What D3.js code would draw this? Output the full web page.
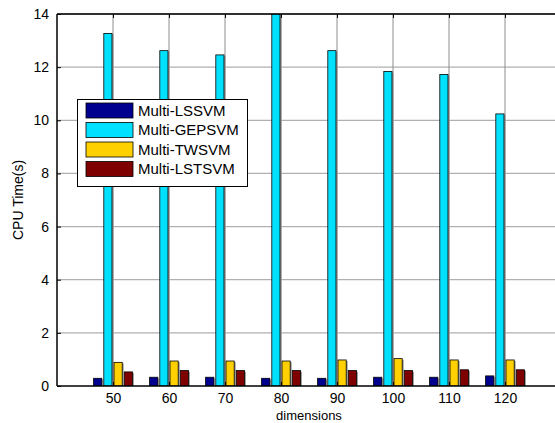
<!DOCTYPE html>
<html><head><meta charset="utf-8">
<script src="https://cdn.jsdelivr.net/npm/d3@7"></script>
<style>body{margin:0;background:#fff}svg{display:block}text{font-family:"Liberation Sans",Arial,sans-serif}</style>
</head><body><svg id="c" width="555" height="423"></svg>
<script>
const dims = [50, 60, 70, 80, 90, 100, 110, 120];
const seriesNames = ["Multi-LSSVM", "Multi-GEPSVM", "Multi-TWSVM", "Multi-LSTSVM"];
const lssvm   = [0.29, 0.33, 0.33, 0.29, 0.29, 0.33, 0.33, 0.38];
const gepsvm  = [13.27, 12.62, 12.46, 14.0, 12.62, 11.84, 11.72, 10.24];
const twsvm   = [0.89, 0.94, 0.94, 0.94, 0.98, 1.03, 0.98, 0.98];
const lstsvm  = [0.53, 0.58, 0.58, 0.58, 0.58, 0.58, 0.61, 0.61];
const yTicks  = [0, 2, 4, 6, 8, 10, 12, 14];
const colors  = ["#00008F", "#00E1FF", "#FFD000", "#7F0000"];
const seriesVals = [lssvm, gepsvm, twsvm, lstsvm];

const svg = d3.select("#c");
const L = 57, T = 14, B = 386, R = 561;
const x = d3.scaleLinear().domain([40, 130]).range([L, R]);
const y = d3.scaleLinear().domain([0, 14]).range([B, T]);
const off = d3.scaleBand().domain(seriesNames).range([-19.4, 19.4]).paddingInner(0.2);

// grid
const g = svg.append("g");
g.selectAll(".hg").data(yTicks.slice(1)).enter().append("line")
  .attr("x1", L).attr("x2", R).attr("y1", d => y(d)).attr("y2", d => y(d))
  .attr("stroke", "#b0b0b0").attr("stroke-width", 1.3);
g.selectAll(".vg").data(dims).enter().append("line")
  .attr("x1", d => x(d)).attr("x2", d => x(d)).attr("y1", T).attr("y2", B)
  .attr("stroke", "#8c8c8c").attr("stroke-width", 1);

// bars
const clip = svg.append("clipPath").attr("id", "pc").append("rect")
  .attr("x", L).attr("y", T).attr("width", R - L).attr("height", B - T);
const bars = svg.append("g").attr("clip-path", "url(#pc)");
seriesNames.forEach((name, si) => {
  const vals = seriesVals[si];
  bars.selectAll(".s" + si).data(dims).enter().append("rect")
    .attr("x", (d) => x(d) + off(name) + 1.5)
    .attr("y", (d, i) => y(vals[i]) + 1)
    .attr("width", off.bandwidth())
    .attr("height", (d, i) => B - y(vals[i]) - 1)
    .attr("fill", "#9a9a9a");
  bars.selectAll(".b" + si).data(dims).enter().append("rect")
    .attr("x", (d) => x(d) + off(name))
    .attr("y", (d, i) => y(vals[i]))
    .attr("width", off.bandwidth())
    .attr("height", (d, i) => B - y(vals[i]))
    .attr("fill", colors[si]).attr("stroke", "#000").attr("stroke-width", 0.8);
});

// axes
const yAxis = d3.axisLeft(y).tickValues(yTicks).tickSize(-4).tickPadding(8).tickFormat(d3.format("d"));
const ya = svg.append("g").attr("transform", `translate(${L},0)`).call(yAxis);
const xAxis = d3.axisBottom(x).tickValues(dims).tickSize(-4).tickPadding(7).tickFormat(d3.format("d"));
const xa = svg.append("g").attr("transform", `translate(0,${B})`).call(xAxis);
const xTop = d3.axisTop(x).tickValues(dims).tickSize(-4).tickFormat("");
const xt = svg.append("g").attr("transform", `translate(0,${T})`).call(xTop);
[ya, xa, xt].forEach(a => {
  a.select(".domain").remove();
  a.selectAll("line").attr("stroke", "#000");
  a.selectAll("text").attr("font-size", 14).attr("fill", "#000").attr("font-family", "Liberation Sans, Arial, sans-serif");
});
svg.append("line").attr("x1", L).attr("x2", R).attr("y1", B).attr("y2", B).attr("stroke", "#000").attr("stroke-width", 1.5);
svg.append("line").attr("x1", L).attr("x2", R).attr("y1", T).attr("y2", T).attr("stroke", "#000").attr("stroke-width", 1.5);
svg.append("line").attr("x1", L).attr("x2", L).attr("y1", T).attr("y2", B).attr("stroke", "#000").attr("stroke-width", 1.5);

// labels
svg.append("text").attr("x", x(85)).attr("y", 420).attr("text-anchor", "middle").attr("font-size", 13).text("dimensions");
svg.append("text").attr("transform", `translate(23,${(T + B) / 2}) rotate(-90)`).attr("text-anchor", "middle").attr("font-size", 14).text("CPU Time(s)");

// legend
const lg = svg.append("g");
lg.append("rect").attr("x", 77.5).attr("y", 99.5).attr("width", 170).attr("height", 87)
  .attr("fill", "#fff").attr("stroke", "#000").attr("stroke-width", 1);
seriesNames.forEach((name, i) => {
  const yy = 103 + i * 19.5;
  lg.append("rect").attr("x", 86).attr("y", yy).attr("width", 47).attr("height", 15)
    .attr("fill", colors[i]).attr("stroke", "#000").attr("stroke-width", 0.8);
  lg.append("text").attr("x", 138).attr("y", yy + 12.5).attr("font-size", 15).text(name);
});
</script></body></html>
